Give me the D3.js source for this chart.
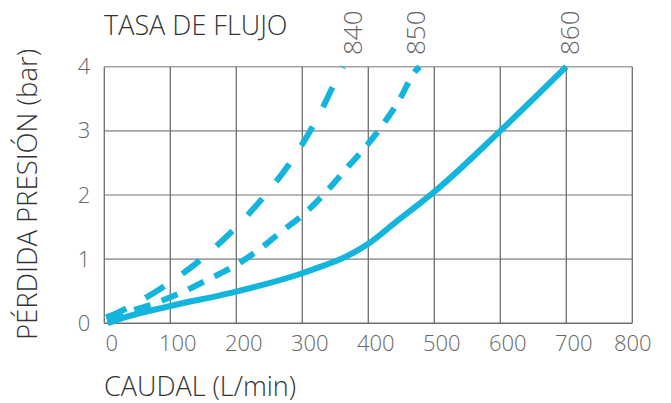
<!DOCTYPE html>
<html>
<head>
<meta charset="utf-8">
<script src="https://cdn.jsdelivr.net/npm/d3@7"></script>
<style>
  body { margin: 0; background: #fff; }
  text { font-family: "Open Sans", sans-serif; }
</style>
</head>
<body>
<svg id="chart" width="671" height="403"></svg>
<script>
var xTicks = [0, 100, 200, 300, 400, 500, 600, 700, 800];
var yTicks = [0, 1, 2, 3, 4];
var seriesNames = ["840", "850", "860"];
// [caudal L/min, perdida bar]
var s840 = [[3, 0.09], [21, 0.17], [82, 0.52], [141, 0.95], [195, 1.45], [243, 1.99],
  [286, 2.57], [324, 3.22], [356, 3.89], [362, 4.0]];
var s850 = [[3, 0.09], [69, 0.285], [112, 0.456], [155, 0.67], [193, 0.87], [232, 1.13],
  [267, 1.42], [303, 1.71], [337, 2.06], [365, 2.39], [395, 2.74], [423, 3.11],
  [448, 3.5], [471, 3.93], [478, 4.0]];
var s860 = [[5, 0], [24, 0.07], [100, 0.27], [190, 0.47], [300, 0.78], [327, 0.88],
  [351, 0.97], [372, 1.07], [400, 1.24], [442, 1.58], [482, 1.9], [500, 2.05],
  [600, 3.0], [700, 4.0]];
var labelAt = [377, 472, 706];

var svg = d3.select("#chart");
var x = d3.scaleLinear().domain([0, 800]).range([104.3, 632.3]);
var y = d3.scaleLinear().domain([0, 4]).range([323.3, 66.7]);
var blue = "#13b5dd";

// grid
var grid = svg.append("g");
grid.selectAll("line.h")
  .data(yTicks)
  .enter()
  .append("line")
  .attr("x1", x(0)).attr("x2", x(800))
  .attr("y1", function (d) { return y(d); })
  .attr("y2", function (d) { return y(d); })
  .attr("stroke", function (d) { return d === 0 ? "#707070" : "#a3a3a3"; })
  .attr("stroke-width", 1.6);
grid.selectAll("line.v")
  .data(xTicks)
  .enter()
  .append("line")
  .attr("y1", y(0)).attr("y2", y(4))
  .attr("x1", function (d) { return x(d); })
  .attr("x2", function (d) { return x(d); })
  .attr("stroke", "#707070")
  .attr("stroke-width", 1.3);

// tick labels
var xAxis = svg.append("g")
  .attr("transform", "translate(0," + y(0) + ")")
  .call(d3.axisBottom(x).tickValues(xTicks).tickSize(0).tickPadding(12));
xAxis.select(".domain").remove();
xAxis.selectAll("text")
  .attr("dx", function (d) { return d === 800 ? 0 : 7; })
  .attr("fill", "#666")
  .style("font-size", "22px").style("font-weight", 300)
  .style("font-family", "'Open Sans', sans-serif");

var yAxis = svg.append("g")
  .attr("transform", "translate(" + x(0) + ",0)")
  .call(d3.axisLeft(y).tickValues(yTicks).tickFormat(d3.format("d")).tickSize(0).tickPadding(14));
yAxis.select(".domain").remove();
yAxis.selectAll("text")
  .attr("fill", "#666")
  .style("font-size", "22px").style("font-weight", 300)
  .style("font-family", "'Open Sans', sans-serif");

// curves
var line = d3.line()
  .x(function (d) { return x(d[0]); })
  .y(function (d) { return y(d[1]); })
  .curve(d3.curveMonotoneX);

var dashes = ["22,22", "17,12", null];
[s840, s850, s860].forEach(function (s, i) {
  svg.append("path")
    .datum(s)
    .attr("d", line)
    .attr("fill", "none")
    .attr("stroke", blue)
    .attr("stroke-width", 6)
    .attr("stroke-dasharray", dashes[i]);
});

// series labels
seriesNames.forEach(function (name, i) {
  var px = x(labelAt[i]);
  svg.append("text")
    .attr("transform", "translate(" + px + ",55) rotate(-90)")
    .attr("dy", "0.35em")
    .attr("fill", "#666")
    .style("font-size", "26px").style("font-weight", 300)
    .text(name);
});

// titles
svg.append("text")
  .attr("x", 104).attr("y", 35)
  .attr("fill", "#333")
  .style("font-size", "27px").style("font-weight", 300)
  .text("TASA DE FLUJO");

svg.append("text")
  .attr("x", 104).attr("y", 396)
  .attr("fill", "#333")
  .style("font-size", "27px").style("font-weight", 300)
  .text("CAUDAL (L/min)");

svg.append("text")
  .attr("transform", "translate(37,340) rotate(-90)")
  .attr("fill", "#333")
  .style("font-size", "27.5px").style("font-weight", 300)
  .text("PÉRDIDA PRESIÓN (bar)");
</script>
</body>
</html>
